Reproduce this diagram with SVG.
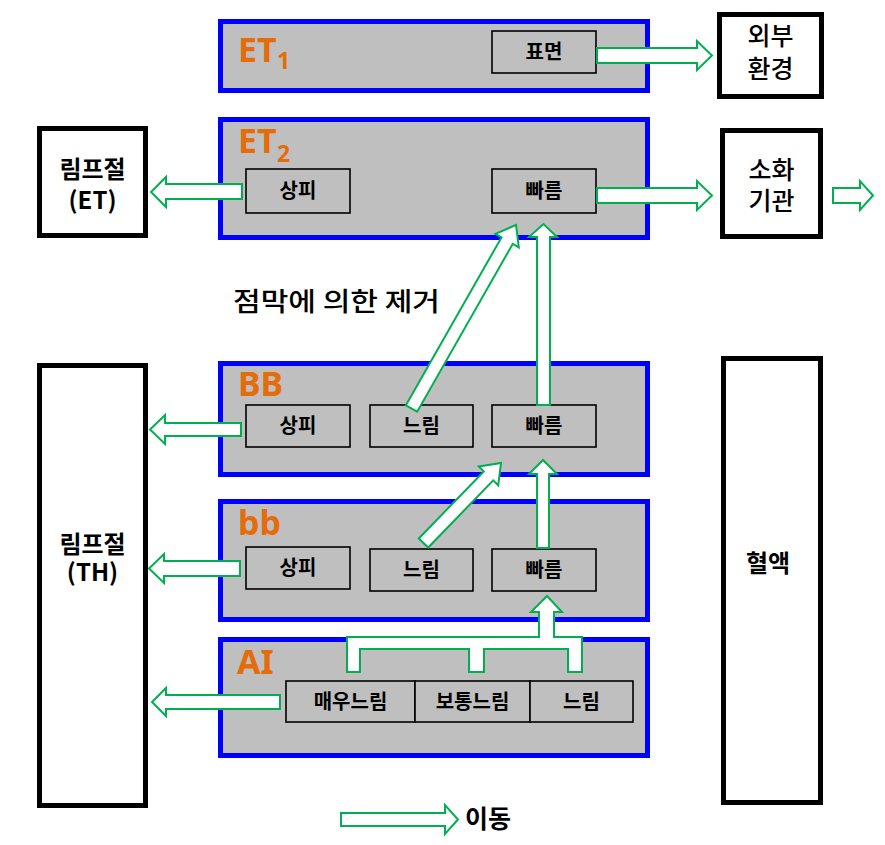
<svg xmlns="http://www.w3.org/2000/svg" width="885" height="845" viewBox="0 0 885 845">
<defs>
<style>
.layer{fill:#BFBFBF;stroke:#0000FF;stroke-width:5}
.cell{fill:#BFBFBF;stroke:#000;stroke-width:1.6}
.ext{fill:#fff;stroke:#000;stroke-width:5}
.lbl{font-family:"Noto Sans CJK KR",sans-serif;font-size:20px;font-weight:bold;fill:#000;text-anchor:middle}
.big{font-family:"Noto Sans CJK KR",sans-serif;font-size:25px;font-weight:500;fill:#000;text-anchor:middle}
.bigb{font-family:"Noto Sans CJK KR",sans-serif;font-size:24px;font-weight:bold;fill:#000;text-anchor:middle}
.tag{font-family:"Noto Sans","Noto Sans CJK KR",sans-serif;font-size:34px;font-weight:bold;fill:#E46C0A}
.sub{font-family:"Noto Sans","Noto Sans CJK KR",sans-serif;font-size:23px;font-weight:bold;fill:#E46C0A}
.arr{fill:#fff;stroke:#00B050;stroke-width:2;stroke-linejoin:miter}
</style>
</defs>

<g id="ET1">
<rect class="layer" x="220.5" y="21.5" width="427" height="69"/>
<text class="tag" x="238" y="62">ET</text><text class="sub" x="277" y="69">1</text>
<g id="ET1-surface"><rect class="cell" x="492" y="31" width="104" height="42"/><text class="lbl" x="544" y="59">표면</text></g>
</g>

<g id="ET2">
<rect class="layer" x="220.5" y="119.5" width="427" height="118"/>
<text class="tag" x="238" y="153">ET</text><text class="sub" x="277" y="162">2</text>
<g id="ET2-epi"><rect class="cell" x="246" y="169" width="104" height="44"/><text class="lbl" x="298" y="198">상피</text></g>
<g id="ET2-fast"><rect class="cell" x="492" y="169" width="104" height="44"/><text class="lbl" x="544" y="198">빠름</text></g>
</g>

<g id="BB">
<rect class="layer" x="220.5" y="363.5" width="427" height="111"/>
<text class="tag" x="238" y="396">BB</text>
<g id="BB-epi"><rect class="cell" x="246" y="405" width="104" height="42"/><text class="lbl" x="298" y="433">상피</text></g>
<g id="BB-slow"><rect class="cell" x="370" y="405" width="103" height="42"/><text class="lbl" x="421.5" y="433">느림</text></g>
<g id="BB-fast"><rect class="cell" x="492" y="405" width="104" height="42"/><text class="lbl" x="544" y="433">빠름</text></g>
</g>

<g id="bb">
<rect class="layer" x="220.5" y="501.5" width="427" height="118"/>
<text class="tag" x="238" y="535">bb</text>
<g id="bb-epi"><rect class="cell" x="246" y="547" width="104" height="42"/><text class="lbl" x="298" y="575">상피</text></g>
<g id="bb-slow"><rect class="cell" x="370" y="549" width="103" height="42"/><text class="lbl" x="421.5" y="577">느림</text></g>
<g id="bb-fast"><rect class="cell" x="492" y="549" width="104" height="42"/><text class="lbl" x="544" y="577">빠름</text></g>
</g>

<g id="AI">
<rect class="layer" x="220.5" y="639.5" width="427" height="116"/>
<text class="tag" x="237" y="674">AI</text>
<g id="AI-vslow"><rect class="cell" x="286" y="681" width="129" height="41"/><text class="lbl" x="350.5" y="708.5">매우느림</text></g>
<g id="AI-mid"><rect class="cell" x="415" y="681" width="115" height="41"/><text class="lbl" x="472.5" y="708.5">보통느림</text></g>
<g id="AI-slow"><rect class="cell" x="530" y="681" width="103" height="41"/><text class="lbl" x="581.5" y="708.5">느림</text></g>
</g>

<g id="external">
<rect class="ext" x="719.5" y="14.5" width="102" height="82"/>
<text class="big"><tspan x="770.5" y="45">외부</tspan><tspan x="770.5" y="78">환경</tspan></text>
</g>

<g id="digestive">
<rect class="ext" x="722.5" y="130.5" width="98" height="106"/>
<text class="big"><tspan x="771.5" y="179">소화</tspan><tspan x="771.5" y="210">기관</tspan></text>
</g>

<g id="lymph-ET">
<rect class="ext" x="39.5" y="128.5" width="106" height="107"/>
<text class="bigb"><tspan x="92.5" y="178">림프절</tspan><tspan x="92.5" y="209">(ET)</tspan></text>
</g>

<g id="lymph-TH">
<rect class="ext" x="39.5" y="365.5" width="106" height="440"/>
<text class="bigb"><tspan x="92.5" y="553">림프절</tspan><tspan x="92.5" y="581">(TH)</tspan></text>
</g>

<g id="blood">
<rect class="ext" x="723.5" y="358.5" width="97" height="444"/>
<text class="bigb" x="768" y="572">혈액</text>
</g>

<g id="mucus-label">
<text x="233" y="311" textLength="207" lengthAdjust="spacingAndGlyphs" style="font-family:'Noto Sans CJK KR',sans-serif;font-size:26px;font-weight:500;fill:#000">점막에 의한 제거</text>
</g>

<g id="connectors">
<polygon class="arr" points="597,48 697,48 697,41 712,55.5 697,70 697,63 597,63"/>
<polygon class="arr" points="597,188 697,188 697,181 712,195.5 697,210 697,203 597,203"/>
<polygon class="arr" points="833,188 860,188 860,181 873,195.5 860,210 860,203 833,203"/>
<polygon class="arr" points="242,184 166,184 166,177 151,192 166,207 166,199 242,199"/>
<polygon class="arr" points="241,423 165,423 165,415 150,429.5 165,444 165,436 241,436"/>
<polygon class="arr" points="240,561 164,561 164,554 149,568.5 164,583 164,576 240,576"/>
<polygon class="arr" points="280,695 166,695 166,688 152,702 166,716 166,709 280,709"/>
<polygon class="arr" points="537,405 537,237 529,237 543.5,224 557,237 550,237 550,405"/>
<polygon class="arr" points="537,548 537,474 529,474 543,460 557,474 549,474 549,548"/>
<polygon class="arr" points="405.9,405.3 501.5,237.4 495.4,233.9 516,225 518.8,247.3 512.8,243.8 417.2,411.7"/>
<polygon class="arr" points="418.8,538.5 483.8,471.4 478.8,466.5 501,463 498.2,485.3 493.2,480.4 428.2,547.5"/>
<polygon class="arr" points="547,596 562,612 554,612 554,637 582,637 582,672 568,672 568,649 484,649 484,672 469,672 469,649 360,649 360,672 347,672 347,637 539,637 539,612 531,612"/>
</g>

<g id="legend">
<polygon class="arr" points="341,813 445,813 445,805 458,819.5 445,834 445,826 341,826"/>
<text style="font-family:'Noto Sans CJK KR',sans-serif;font-size:25px;font-weight:bold;fill:#000" x="465" y="828">이동</text>
</g>
</svg>
